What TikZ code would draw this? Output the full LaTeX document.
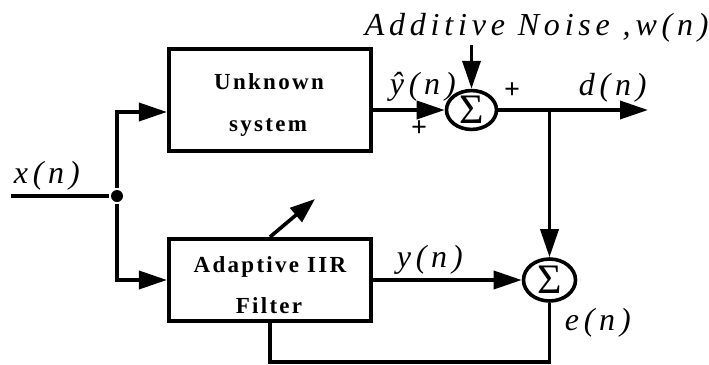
\documentclass[tikz,border=0pt]{standalone}
\usepackage{fontspec}
\setmainfont{Liberation Serif}
\newfontfamily\lblfont{Liberation Serif}[LetterSpace=15]
\newfontfamily\boxfont{Liberation Serif}[LetterSpace=10]
\usetikzlibrary{arrows.meta,shapes.geometric,calc}
\begin{document}
\begin{tikzpicture}[x=1pt,y=-1pt,
  line width=3.6pt, line join=miter,
  every node/.style={inner sep=0pt},
  arr/.style={-{Triangle[length=28pt,width=18pt]}},
  blockbox/.style={draw, rectangle, minimum width=202.5pt},
  sumnode/.style={draw, ellipse, font=\fontsize{42}{42}\selectfont},
  dot/.style={circle, fill, minimum size=12pt},
  lbl/.style={anchor=base west, font=\lblfont\itshape\fontsize{32}{32}\selectfont},
  btxt/.style={anchor=base, font=\boxfont\bfseries\fontsize{23}{23}\selectfont},
  sgn/.style={font=\bfseries\fontsize{28}{28}\selectfont}]
\useasboundingbox (0,0) rectangle (709,364);

% blocks
\node[blockbox, minimum height=102.5pt] (unk) at (270,100) {};
\node[blockbox, minimum height=82.5pt] (adf) at (270,280) {};
\node[btxt] (unk1) at (269,89) {Unknown};
\node[btxt] (unk2) at (268,131) {system};
\node[btxt] (adf1) at (270,272) {Adaptive IIR};
\node[btxt] (adf2) at (269,313) {Filter};

% summing junctions
\node[sumnode, minimum width=50pt, minimum height=38pt] (top) at (471.5,110) {Σ};
\node[sumnode, minimum width=52pt, minimum height=42pt] (bot) at (549.5,280) {Σ};

% input and branch point
\coordinate (in) at (11,196);
\node[dot] (split) at (117,196) {};
\draw (in) -- (split);
\draw[arr] (split) |- ($(unk.west)+(0,12)$);
\draw[arr] (split) |- (adf.west);

% upper path
\draw[arr] (unk.east |- top) -- (top.west);
\coordinate (noise) at (471.5,45);
\draw[arr] (noise) -- (top.north);
\coordinate (dout) at (648,110);
\draw[arr] (top.east) -- (dout);
\coordinate (tap) at (549.5,110);
\draw[arr] (tap) -- (bot.north);

% lower path
\draw[arr] (adf.east |- bot) -- (bot.west);
\coordinate (fb) at (270,362);
\draw (bot.south) |- (fb) -- (adf.south);
\coordinate (adj) at (315,199);
\draw[-{Triangle[length=25pt,width=18pt]}] (adf.north) -- (adj);

% labels
\node[lbl] (lx) at (12,183) {x(n)};
\node[lbl] (lyh) at (388,94) {ŷ(n)};
\node[lbl] (ld) at (577,95) {d(n)};
\node[lbl] (ly) at (395,267) {y(n)};
\node[lbl] (le) at (563,330) {e(n)};
\node[lbl] (lnoise) at (363,35) {Additive Noise ,w(n)};
\node[sgn] (p1) at (419,129) {+};
\node[sgn] (p2) at (512,91) {+};
\end{tikzpicture}
\end{document}
